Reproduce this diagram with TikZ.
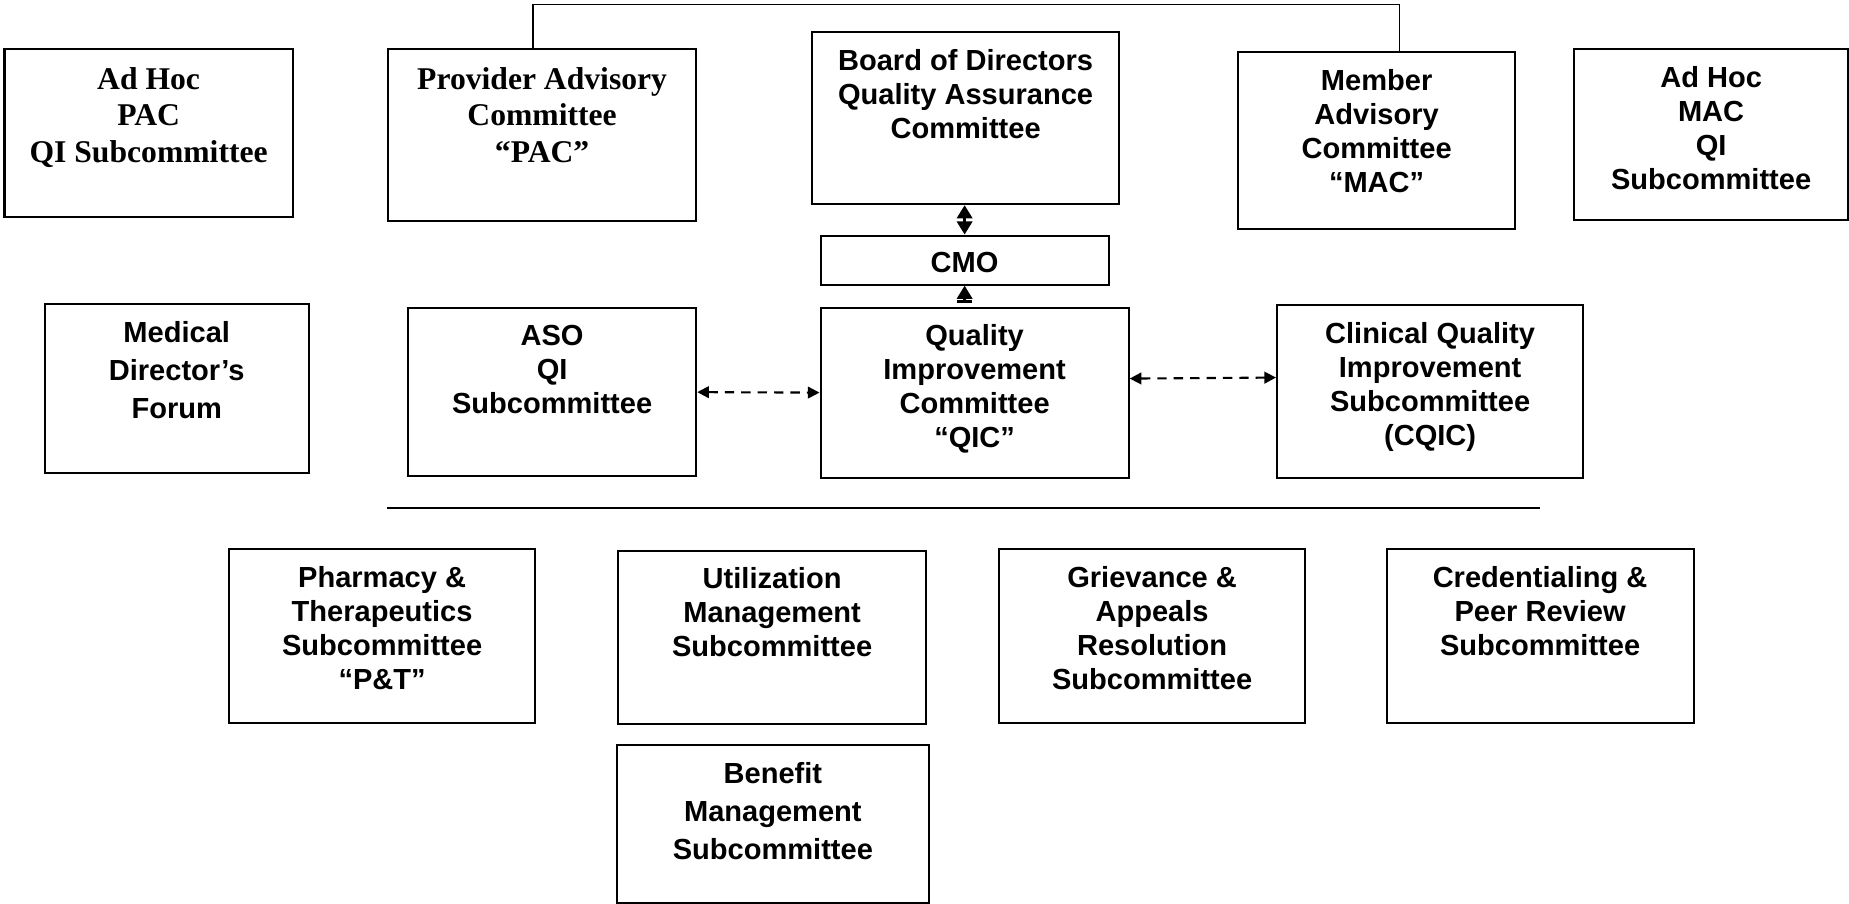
\documentclass[tikz,border=0pt]{standalone}
\usepackage{fontspec}
\setmainfont{Liberation Sans}
\newfontfamily\timesfont{Liberation Serif}
\usetikzlibrary{positioning,arrows.meta}

\tikzset{
  box/.style 2 args={draw, line width=0.95pt, fill=white, inner sep=0pt, anchor=north west,
    minimum width=#1*0.015cm, minimum height=#2*0.015cm},
  txt/.style={align=center, inner sep=0pt, font=\fontsize{12.4}{14.5}\selectfont\bfseries},
  widetxt/.style={txt, font=\fontsize{12.4}{16.4}\selectfont\bfseries},
  serif/.style={align=center, inner sep=0pt, font=\fontsize{13.5}{15.6}\selectfont\timesfont\bfseries},
  link/.style={line width=0.7pt},
  solidarrow/.style={line width=1pt, {Triangle[length=5.6pt,width=6.6pt]}-{Triangle[length=5.6pt,width=6.6pt]}},
  dasharrow/.style={line width=0.9pt, dash pattern=on 4pt off 3pt,
    {Triangle[length=5pt,width=5pt]}-{Triangle[length=5pt,width=5pt]}}
}

\begin{document}
\begin{tikzpicture}[x=0.015cm,y=-0.015cm]
  \useasboundingbox (0,0) rectangle (1849,903);

  % top row
  \node [box={288}{168}] (adhocpac) at (3.5,48) {};
  \node [box={308}{172}] (pac) at (387,48) {};
  \node [box={307}{172}] (board) at (811,31) {};
  \node [box={277}{177}] (mac) at (1237,51) {};
  \node [box={274}{171}] (adhocmac) at (1573,48) {};
  \node [box={288}{49}] (cmo) at (819.5,234.5) {};

  % middle row
  \node [box={264}{169}] (meddir) at (43.6,303) {};
  \node [box={288}{168}] (aso) at (407,307) {};
  \node [box={308}{170}] (qic) at (819.5,306.5) {};
  \node [box={306}{173}] (cqic) at (1276,304) {};

  % subcommittees
  \node [box={306}{174}] (pt) at (228,548) {};
  \node [box={308}{173}] (um) at (617,549.5) {};
  \node [box={306}{174}] (ga) at (998,548) {};
  \node [box={307}{174}] (cred) at (1385.5,548) {};
  \node [box={312.5}{158}] (benefit) at (615.5,744) {};

  % texts
  \node [serif, below=8pt of adhocpac.north] {Ad Hoc\\PAC\\QI Subcommittee};
  \node [serif, below=8pt of pac.north] {Provider Advisory\\Committee\\“PAC”};
  \node [txt, below=7.5pt of board.north] {Board of Directors\\Quality Assurance\\Committee};
  \node [txt, below=7.5pt of mac.north] {Member\\Advisory\\Committee\\“MAC”};
  \node [txt, below=7.5pt of adhocmac.north] {Ad Hoc\\MAC\\QI\\Subcommittee};
  \node [txt, below=7.5pt of cmo.north] {CMO};
  \node [widetxt, below=7.5pt of meddir.north] {Medical\\Director’s\\Forum};
  \node [txt, below=7.5pt of aso.north] {ASO\\QI\\Subcommittee};
  \node [txt, below=7.5pt of qic.north] {Quality\\Improvement\\Committee\\“QIC”};
  \node [txt, below=7.5pt of cqic.north] {Clinical Quality\\Improvement\\Subcommittee\\(CQIC)};
  \node [txt, below=7.5pt of pt.north] {Pharmacy \&\\Therapeutics\\Subcommittee\\“P\&T”};
  \node [txt, below=7.5pt of um.north] {Utilization\\Management\\Subcommittee};
  \node [txt, below=7.5pt of ga.north] {Grievance \&\\Appeals\\Resolution\\Subcommittee};
  \node [txt, below=7.5pt of cred.north] {Credentialing \&\\Peer Review\\Subcommittee};
  \node [widetxt, below=7.5pt of benefit.north] {Benefit\\Management\\Subcommittee};

  % connectors
  \draw [link] ([xshift=-9*0.015cm]pac.north) -- ++(0,-43.5) -| ([xshift=23*0.015cm]mac.north);
  \draw [solidarrow] (cmo.north) -- (cmo.north |- board.south);
  \draw [line width=1pt, {Bar[width=6.6pt]}-{Triangle[length=5.6pt,width=6.6pt]}, shorten <=1.7pt]
    (cmo.south |- qic.north) -- (cmo.south);
  \draw [dasharrow] (aso.east) -- (qic.west);
  \draw [dasharrow] ([yshift=6pt]qic.east) -- ([yshift=6pt]cqic.west);

  % separator
  \coordinate (sepl) at (387,508);
  \coordinate (sepr) at (1540,508);
  \draw [link] (sepl) -- (sepr);

\end{tikzpicture}
\end{document}
